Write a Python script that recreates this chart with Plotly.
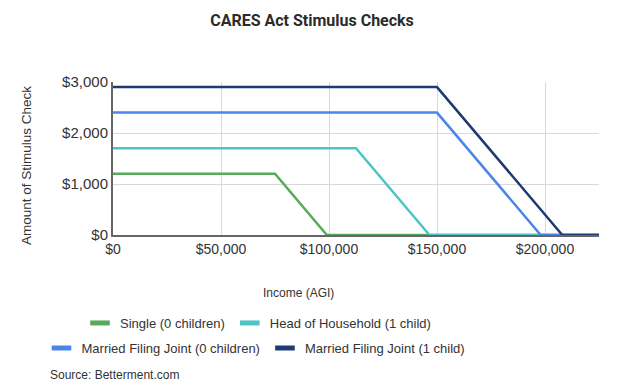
import plotly.graph_objects as go

# Series data (income in $, check amount in $)
single_x = [0, 75000, 99000, 225000]
single_y = [1200, 1200, 0, 0]
hoh_x = [0, 112500, 146500, 225000]
hoh_y = [1700, 1700, 0, 0]
mfj0_x = [0, 150000, 198000, 225000]
mfj0_y = [2400, 2400, 0, 0]
mfj1_x = [0, 150000, 208000, 225000]
mfj1_y = [2900, 2900, 0, 0]

names = ["Single (0 children)", "Head of Household (1 child)",
         "Married Filing Joint (0 children)", "Married Filing Joint (1 child)"]
colors = ["#57aa5b", "#4fc4c6", "#4a86e8", "#1f3a73"]
xs = [single_x, hoh_x, mfj0_x, mfj1_x]
ys = [single_y, hoh_y, mfj0_y, mfj1_y]
legends = ["legend", "legend", "legend2", "legend2"]

xticks = [0, 50000, 100000, 150000, 200000]
xticklabels = ["$0", "$50,000", "$100,000", "$150,000", "$200,000"]
yticks = [0, 1000, 2000, 3000]
yticklabels = ["$0", "$1,000", "$2,000", "$3,000"]

fig = go.Figure()
for x, y, n, c in zip(xs, ys, names, colors):
    fig.add_trace(go.Scatter(x=x, y=y, name=n, mode="lines",
                             line=dict(color=c, width=2.5), showlegend=False))
# legend entries (short thick bars)
for n, c, lg in zip(names, colors, legends):
    fig.add_trace(go.Scatter(x=[None], y=[None], name=n, mode="markers",
                             marker=dict(symbol="line-ew", size=14,
                                         line=dict(color=c, width=5)),
                             legend=lg, showlegend=True))

font = "Liberation Sans, Arial, sans-serif"
W, H = 616, 378
L, R, T, B = 105, 25, 74, 151
PW, PH = W - L - R, H - T - B


def px(xp):
    return (xp - 8 - L) / PW


def py(yp):
    return (H - B - (yp - 8)) / PH


fig.update_layout(
    width=W, height=H,
    margin=dict(l=L, r=R, t=T, b=B),
    plot_bgcolor="white", paper_bgcolor="white",
    font=dict(family=font, size=14, color="#333333"),
    title=dict(text="<b>CARES Act Stimulus Checks</b>", x=(312 - 8) / W, xanchor="center",
               y=1 - (20 - 8) / H, yanchor="middle",
               font=dict(family="Roboto, sans-serif", size=16, color="#2b2b2b")),
    xaxis=dict(range=[0, 225000], tickvals=xticks, ticktext=xticklabels,
               showgrid=True, gridcolor="#d9d9d9", gridwidth=1,
               showline=True, linecolor="#666666", linewidth=2,
               zeroline=False, ticks="", tickfont=dict(size=14, color="#333333")),
    yaxis=dict(range=[0, 3000], tickvals=yticks, ticktext=yticklabels,
               showgrid=True, gridcolor="#d9d9d9", gridwidth=1,
               showline=True, linecolor="#666666", linewidth=2,
               zeroline=False, ticks="", tickfont=dict(size=15, color="#333333")),
    legend=dict(orientation="h", xref="container", yref="container",
                x=(258 - 8) / W, xanchor="center", y=1 - (323 - 8) / H, yanchor="middle",
                font=dict(size=13, color="#333333"), itemwidth=30,
                bgcolor="rgba(0,0,0,0)"),
    legend2=dict(orientation="h", xref="container", yref="container",
                 x=(256 - 8) / W, xanchor="center", y=1 - (348 - 8) / H, yanchor="middle",
                 font=dict(size=13, color="#333333"), itemwidth=30,
                 bgcolor="rgba(0,0,0,0)"),
    showlegend=True,
)

fig.add_annotation(text="Income (AGI)", xref="paper", yref="paper",
                   x=px(298), y=py(293),
                   xanchor="center", yanchor="middle", showarrow=False,
                   font=dict(size=12, color="#333333"))
fig.add_annotation(text="Amount of Stimulus Check", xref="paper", yref="paper",
                   x=px(26), y=py(166), textangle=-90,
                   xanchor="center", yanchor="middle", showarrow=False,
                   font=dict(size=13.5, color="#333333"))
fig.add_annotation(text="Source: Betterment.com", xref="paper", yref="paper",
                   x=px(48), y=py(375),
                   xanchor="left", yanchor="middle", showarrow=False,
                   font=dict(size=12, color="#333333"))

fig.write_html("out.html")
